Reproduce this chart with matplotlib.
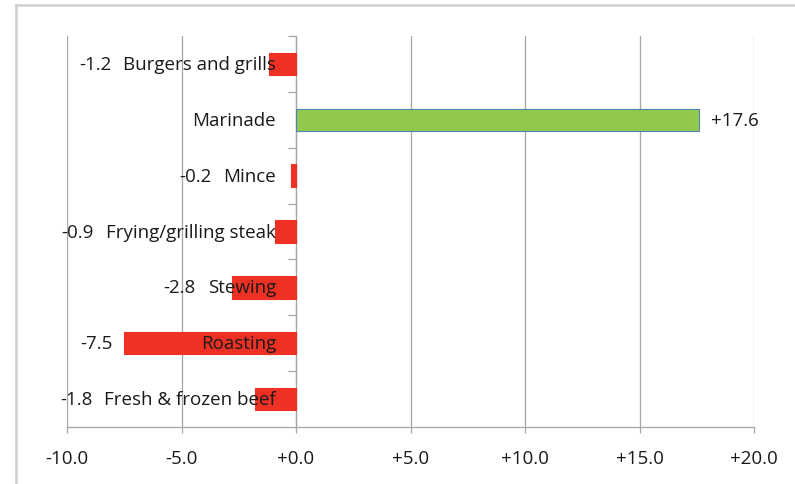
import matplotlib
matplotlib.use("Agg")
import matplotlib.pyplot as plt
from matplotlib.lines import Line2D
from matplotlib.ticker import FuncFormatter

plt.rcParams["font.family"] = ["Open Sans", "DejaVu Sans"]

# ── data ────────────────────────────────────────────────────────────────
categories = ["Burgers and grills", "Marinade", "Mince", "Frying/grilling steak",
              "Stewing", "Roasting", "Fresh & frozen beef"]
changes = [-1.2, 17.6, -0.2, -0.9, -2.8, -7.5, -1.8]
x_ticks = [-10, -5, 0, 5, 10, 15, 20]

RED = "#EE3124"
GREEN = "#92C84B"
GRID = "#A6A6A6"
TXT = "#1a1a1a"
FS = 13.5

fig = plt.figure(figsize=(7.95, 4.85), dpi=100)
W, H = 795, 485
ax = fig.add_axes([67 / W, 1 - 428 / H, (754 - 67) / W, (428 - 37) / H])

ypos = list(range(len(categories)))
colors = [GREEN if v > 0 else RED for v in changes]
edges = ["#4F81BD" if v > 0 else RED for v in changes]
ax.barh(ypos, changes, height=0.4, color=colors, edgecolor=edges, linewidth=0.8, zorder=3)

ax.set_xlim(-10, 20)
ax.set_ylim(len(categories) - 0.5, -0.5)
ax.set_xticks(x_ticks)
ax.xaxis.set_major_formatter(FuncFormatter(lambda v, _: f"{v:.1f}" if v < 0 else f"{v:+.1f}"))
ax.tick_params(axis="x", length=4, width=0.9, color=GRID, labelsize=FS, labelcolor=TXT, pad=12)
ax.grid(axis="x", color=GRID, linewidth=0.9, zorder=0)

# y axis sits on zero with category boundary ticks
for s in ["top", "right"]:
    ax.spines[s].set_visible(False)
ax.spines["left"].set_position(("data", 0))
ax.spines["left"].set_color(GRID)
ax.spines["left"].set_linewidth(0.9)
ax.spines["bottom"].set_color(GRID)
ax.spines["bottom"].set_linewidth(0.9)
ax.set_yticks([i - 0.5 for i in range(len(categories))])
ax.set_yticklabels([])
ax.tick_params(axis="y", length=6, width=0.9, color=GRID)

# category labels right of zero line
cat_texts = []
for i, name in enumerate(categories):
    t = ax.annotate(name, xy=(0, i), xytext=(-20, 0), textcoords="offset pixels",
                    ha="right", va="center", fontsize=FS, color=TXT, zorder=4)
    cat_texts.append(t)

fig.canvas.draw()
renderer = fig.canvas.get_renderer()
inv = ax.transData.inverted()
gap = 12
for i, (v, t) in enumerate(zip(changes, cat_texts)):
    if v > 0:
        ax.annotate(f"{v:+.1f}", xy=(v, i), xytext=(12, 0), textcoords="offset pixels",
                    ha="left", va="center", fontsize=FS, color=TXT, zorder=4)
    else:
        x_txt = t.get_window_extent(renderer).x0
        x_bar = ax.transData.transform((v, i))[0]
        xd = inv.transform((min(x_txt, x_bar) - gap, 0))[0]
        ax.text(xd, i, f"{v:.1f}", ha="right", va="center", fontsize=FS, color=TXT, zorder=4)

# outer chart frame (top and left edge)
fig.add_artist(Line2D([16 / W, 1], [1 - 6 / H, 1 - 6 / H], color="#D0D0D0", lw=1.8))
fig.add_artist(Line2D([16 / W, 16 / W], [0, 1 - 6 / H], color="#D0D0D0", lw=1.8))

fig.savefig("out.png", dpi=100, facecolor="white")
